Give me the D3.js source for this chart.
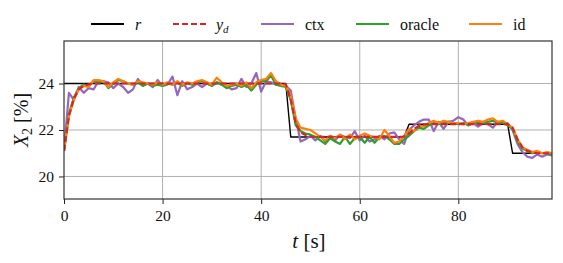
<!DOCTYPE html>
<html>
<head>
<meta charset="utf-8">
<script src="https://cdn.jsdelivr.net/npm/d3@7.9.0/dist/d3.min.js"></script>
<style>
  body { margin: 0; background: #fff; }
  svg text { font-family: 'Liberation Serif', 'Times New Roman', serif; }
</style>
</head>
<body>
<svg id="chart" width="563" height="263"></svg>
<script>
// time samples, one per second
const time = d3.range(0, 100);

// reference r
const rVals = time.map(t => t <= 45 ? 24 : t <= 69 ? 21.7 : t <= 90 ? 22.25 : 21.0);

// desired trajectory y_d
const ydVals = [
  21.1, 22.6, 23.35, 23.75, 23.9, 23.97, 24, 24, 24, 24,
  24, 24, 24, 24, 24, 24, 24, 24, 24, 24,
  24, 24, 24, 24, 24, 24, 24, 24, 24, 24,
  24, 24, 24, 24, 24, 24, 24, 24, 24, 24,
  24, 24, 24, 24, 24, 23.98, 23.3, 22.3, 21.9, 21.78,
  21.72, 21.7, 21.7, 21.7, 21.7, 21.7, 21.7, 21.7, 21.7, 21.7,
  21.7, 21.7, 21.7, 21.7, 21.7, 21.7, 21.7, 21.7, 21.7, 21.72,
  21.85, 22.05, 22.17, 22.23, 22.25, 22.25, 22.25, 22.25, 22.25, 22.25,
  22.25, 22.25, 22.25, 22.25, 22.25, 22.25, 22.25, 22.25, 22.25, 22.25,
  22.25, 22.1, 21.6, 21.25, 21.1, 21.03, 21.0, 21.0, 21.0, 21.0
];

// ctx
const ctxVals = [
  21.1, 23.6, 23.3, 23.85, 23.6, 23.8, 23.75, 24.1, 24.1, 24.05,
  23.8, 24.0, 23.85, 23.6, 23.75, 24.2, 23.9, 24.0, 23.85, 24.15,
  23.9, 23.95, 24.3, 23.5, 24.1, 23.75, 23.85, 24.0, 23.85, 24.0,
  23.9, 24.05, 23.95, 23.9, 23.75, 23.8, 24.2, 23.85, 24.0, 24.45,
  23.65, 24.1, 24.05, 23.95, 23.95, 23.9, 23.7, 22.5, 21.5, 21.6,
  21.75, 21.55, 21.75, 21.5, 21.75, 21.55, 21.8, 21.7, 21.65, 21.95,
  21.55, 21.75, 21.5, 21.6, 21.75, 21.6, 21.85, 21.9, 21.6, 21.4,
  22.0, 22.2, 22.35, 22.45, 22.45, 21.95, 22.35, 22.05, 22.35, 22.4,
  22.55, 22.45, 22.2, 22.3, 22.15, 22.3, 22.25, 22.1, 22.35, 22.3,
  22.3, 22.0, 21.4, 21.05, 20.85, 20.8, 20.95, 20.85, 20.95, 20.9
];

// oracle
const oracleVals = [
  21.1, 22.7, 23.4, 23.8, 23.95, 23.9, 24.1, 24.05, 24.1, 23.8,
  24.0, 24.15, 24.1, 24.0, 23.95, 24.05, 23.9, 24.0, 23.9, 23.95,
  23.9, 24.0, 23.95, 24.05, 23.9, 24.0, 23.95, 24.05, 24.1, 24.0,
  23.9, 24.05, 23.95, 23.8, 23.9, 23.95, 23.85, 23.95, 23.7, 23.95,
  24.1, 24.1, 24.35, 23.95, 23.9, 23.85, 23.3, 22.2, 21.95, 21.85,
  21.8, 21.7, 21.55, 21.4, 21.65, 21.5, 21.4, 21.7, 21.4, 21.65,
  21.7, 21.45, 21.7, 21.45, 21.7, 21.75, 21.6, 21.4, 21.4, 21.6,
  21.75, 21.95, 22.1, 22.05, 22.2, 22.3, 22.25, 22.3, 22.35, 22.3,
  22.25, 22.3, 22.2, 22.3, 22.35, 22.3, 22.35, 22.4, 22.3, 22.3,
  22.2, 22.05, 21.5, 21.2, 21.1, 21.0, 21.05, 21.0, 21.0, 20.95
];

// id
const idVals = [
  21.1, 22.6, 23.3, 23.75, 23.9, 23.85, 24.15, 24.15, 24.1, 23.85,
  24.05, 24.2, 24.1, 24.0, 23.95, 24.1, 24.05, 24.0, 23.95, 24.05,
  23.95, 24.05, 23.95, 24.1, 23.95, 24.05, 24.0, 24.1, 24.15, 24.05,
  23.95, 24.25, 24.05, 23.9, 23.95, 24.0, 23.9, 24.05, 23.8, 24.05,
  24.15, 24.2, 24.45, 24.1, 23.95, 23.9, 23.5, 22.5, 22.1, 22.05,
  22.0, 21.85, 21.7, 21.55, 21.75, 21.65, 21.8, 21.6, 21.8, 21.6,
  21.75, 21.85, 21.75, 21.7, 21.6, 22.0, 21.75, 21.45, 21.5, 21.75,
  22.05, 21.95, 22.2, 22.15, 22.3, 22.4, 22.3, 22.4, 22.35, 22.3,
  22.3, 22.25, 22.3, 22.35, 22.4, 22.35, 22.45, 22.5, 22.35, 22.4,
  22.25, 22.1, 21.6, 21.25, 21.15, 21.05, 21.1, 21.0, 21.05, 21.0
];

const xTicks = [0, 20, 40, 60, 80];
const yTicks = [20, 22, 24];

const svg = d3.select('#chart');
const margin = { left: 64, right: 11, top: 41, bottom: 64 };
const width = 563 - margin.left - margin.right;
const height = 263 - margin.top - margin.bottom;

const x = d3.scaleLinear().domain([0, 99]).range([margin.left, margin.left + width]);
const y = d3.scaleLinear().domain([19.03, 25.83]).range([margin.top + height, margin.top]);

// Grid
const grid = svg.append('g');
grid.selectAll('line.gx')
  .data(xTicks.filter(d => d > 0))
  .enter()
  .append('line')
  .attr('x1', d => x(d)).attr('x2', d => x(d))
  .attr('y1', margin.top).attr('y2', margin.top + height)
  .attr('stroke', '#b0b0b0').attr('stroke-width', 1);
grid.selectAll('line.gy')
  .data(yTicks)
  .enter()
  .append('line')
  .attr('x1', margin.left).attr('x2', margin.left + width)
  .attr('y1', d => y(d)).attr('y2', d => y(d))
  .attr('stroke', '#b0b0b0').attr('stroke-width', 1);

// Series
const line = d3.line().x((d, i) => x(time[i])).y(d => y(d));
svg.append('clipPath').attr('id', 'clip')
  .append('rect').attr('x', margin.left).attr('y', margin.top).attr('width', width).attr('height', height);
const plot = svg.append('g').attr('clip-path', 'url(#clip)');

const series = [
  { vals: rVals, color: '#000000', w: 1.4, dash: null },
  { vals: ctxVals, color: '#9467bd', w: 2.2, dash: null },
  { vals: oracleVals, color: '#2ca02c', w: 2.2, dash: null },
  { vals: idVals, color: '#ff7f0e', w: 2.2, dash: null },
  { vals: ydVals, color: '#d62728', w: 2.2, dash: '6,3' }
];
series.forEach(s => {
  plot.append('path')
    .datum(s.vals)
    .attr('d', line)
    .attr('fill', 'none')
    .attr('stroke', s.color)
    .attr('stroke-width', s.w)
    .attr('stroke-linejoin', 'round')
    .attr('stroke-dasharray', s.dash);
});

// Axes
const xAxis = svg.append('g')
  .attr('transform', `translate(0,${margin.top + height})`)
  .call(d3.axisBottom(x).tickValues(xTicks).tickSize(5).tickPadding(6).tickFormat(d3.format('d')));
const yAxis = svg.append('g')
  .attr('transform', `translate(${margin.left},0)`)
  .call(d3.axisLeft(y).tickValues(yTicks).tickSize(5).tickPadding(5).tickFormat(d3.format('d')));
[xAxis, yAxis].forEach(a => {
  a.attr('font-family', null);
  a.select('.domain').remove();
  a.selectAll('.tick line').attr('stroke', '#222');
  a.selectAll('.tick text')
    .attr('font-size', 15.5)
    .attr('fill', '#111');
});

// Frame
svg.append('rect')
  .attr('x', margin.left).attr('y', margin.top)
  .attr('width', width).attr('height', height)
  .attr('fill', 'none').attr('stroke', '#333').attr('stroke-width', 1.2);

// Axis labels
svg.append('text')
  .attr('x', 309).attr('y', 248)
  .attr('text-anchor', 'middle')
  .attr('font-size', 21)
  .attr('fill', '#111')
  .html('<tspan font-style="italic">t</tspan> [s]');

svg.append('text')
  .attr('transform', `translate(28,${margin.top + height / 2}) rotate(-90)`)
  .attr('text-anchor', 'middle')
  .attr('font-size', 20)
  .attr('fill', '#111')
  .html('<tspan font-style="italic">X</tspan><tspan font-size="14" dy="4">2</tspan><tspan dy="-4"> [%]</tspan>');

// Legend
const legendItems = [
  { label: '<tspan font-style="italic">r</tspan>', color: '#000', dash: null, x0: 91, tx: 135 },
  { label: '<tspan font-style="italic">y</tspan><tspan font-style="italic" font-size="11" dy="3">d</tspan>', color: '#d62728', dash: '6,3', x0: 173, tx: 216 },
  { label: 'ctx', color: '#9467bd', dash: null, x0: 261, tx: 305 },
  { label: 'oracle', color: '#2ca02c', dash: null, x0: 356, tx: 400 },
  { label: 'id', color: '#ff7f0e', dash: null, x0: 469, tx: 513 }
];
const legend = svg.append('g');
legendItems.forEach(d => {
  legend.append('line')
    .attr('x1', d.x0).attr('x2', d.x0 + 33)
    .attr('y1', 24).attr('y2', 24)
    .attr('stroke', d.color).attr('stroke-width', 2)
    .attr('stroke-dasharray', d.dash);
  legend.append('text')
    .attr('x', d.tx).attr('y', 29.5)
    .attr('font-size', 16)
    .attr('fill', '#111')
    .html(d.label);
});
</script>
</body>
</html>
